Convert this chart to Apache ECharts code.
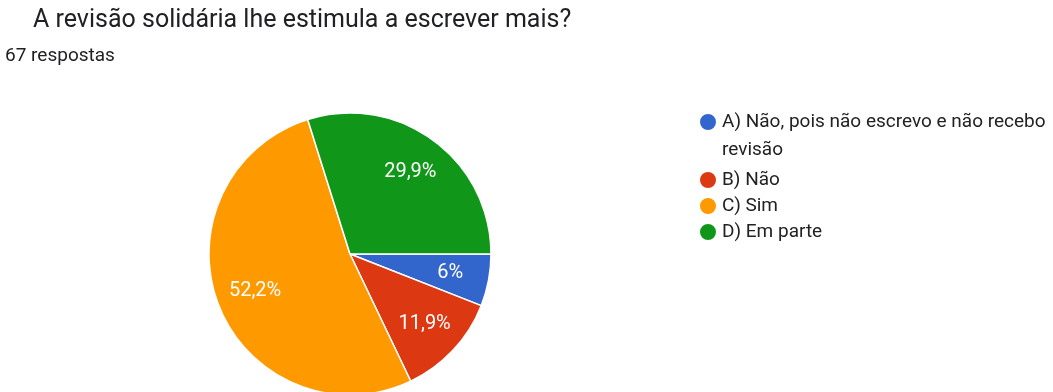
<!DOCTYPE html>
<html>
<head>
<meta charset="utf-8">
<script src="https://cdn.jsdelivr.net/npm/echarts@6/dist/echarts.min.js"></script>
<style>
html,body{margin:0;padding:0;background:#fff;}
#c{width:1053px;height:392px;}
</style>
</head>
<body>
<div id="c"></div>
<script>
const titleText = 'A revisão solidária lhe estimula a escrever mais?';
const subtitleText = '67 respostas';
const categories = ['A) Não, pois não escrevo e não recebo revisão', 'B) Não', 'C) Sim', 'D) Em parte'];
const counts = [4, 8, 35, 20];
const colors = ['#3366cc', '#dc3912', '#ff9900', '#109618'];

const total = counts.reduce((a, b) => a + b, 0);
const pieData = categories.map((n, i) => ({ name: n, value: counts[i], itemStyle: { color: colors[i] } }));
const fmt = p => (Math.round(p.value / total * 1000) / 10).toString().replace('.', ',') + '%';
const FONT = 'Roboto';

const chart = echarts.init(document.getElementById('c'), null, { renderer: 'canvas' });
chart.setOption({
  animation: false,
  backgroundColor: '#fff',
  title: [
    { text: titleText, left: 33, top: 7, padding: 0, textStyle: { fontFamily: FONT, fontSize: 25, fontWeight: 'normal', color: '#202124', lineHeight: 28 } },
    { text: subtitleText, left: 5, top: 45, padding: 0, textStyle: { fontFamily: FONT, fontSize: 19, fontWeight: 'normal', color: '#202124', lineHeight: 22 } }
  ],
  legend: {
    orient: 'vertical',
    left: 698,
    top: 80,
    padding: 0,
    itemGap: 6,
    itemWidth: 18,
    itemHeight: 18,
    itemTextGap: 6,
    icon: 'circle',
    selectedMode: false,
    formatter: name => name === categories[0] ? '\n' + name.replace(/ (\S+)$/, '\n$1') : name,
    textStyle: { fontFamily: FONT, fontSize: 19, color: '#222222', lineHeight: 19, overflow: 'none' },
    data: categories.map((n, i) => i === 0 ? {
      name: n,
      textStyle: { lineHeight: 28, overflow: 'none' }
    } : { name: n })
  },
  series: [
    {
      type: 'pie',
      center: [350, 254],
      radius: [0, 141],
      startAngle: 0,
      clockwise: true,
      silent: true,
      itemStyle: { borderColor: '#ffffff', borderWidth: 1.5 },
      label: { show: false },
      labelLine: { show: false },
      emphasis: { disabled: true },
      data: pieData
    },
    {
      type: 'pie',
      center: [350, 254],
      radius: [57, 141],
      startAngle: 0,
      clockwise: true,
      silent: true,
      legendHoverLink: false,
      itemStyle: { color: 'rgba(0,0,0,0)', borderWidth: 0 },
      label: { show: true, position: 'inside', formatter: fmt, fontFamily: FONT, fontSize: 20, color: '#ffffff' },
      labelLine: { show: false },
      emphasis: { disabled: true },
      data: categories.map((n, i) => ({ name: n, value: counts[i] }))
    }
  ]
});
</script>
</body>
</html>
